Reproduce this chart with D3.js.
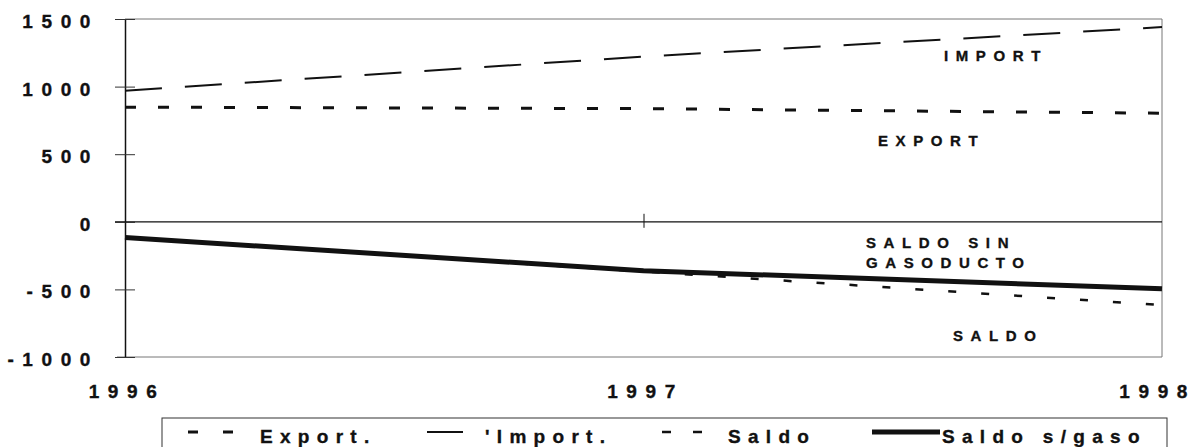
<!DOCTYPE html>
<html>
<head>
<meta charset="utf-8">
<script src="https://cdn.jsdelivr.net/npm/d3@7"></script>
<style>
  body { margin: 0; background: #fff; }
  svg { display: block; font-family: "Liberation Sans", Arial, sans-serif; font-weight: bold; }
  text { stroke: #111; stroke-width: 0.35px; }
</style>
</head>
<body>
<svg id="chart" width="1197" height="447"></svg>
<script>
// values
const years = [1996, 1997, 1998];
const exportVals = [848, 837, 803];
const importVals = [970, 1222, 1440];
const saldoVals = [-116, -368, -616];
const saldoSinVals = [-116, -362, -495];
const yTicks = [-1000, -500, 0, 500, 1000, 1500];
const xTickLabels = ["1996", "1997", "1998"];

const series = [
  { name: "Export.", values: exportVals, width: 3, dash: "11,22" },
  { name: "'Import.", values: importVals, width: 2, dash: "37,23" },
  { name: "Saldo", values: saldoVals, width: 2.5, dash: "8,25" },
  { name: "Saldo s/gaso", values: saldoSinVals, width: 5, dash: null }
];

const svg = d3.select("#chart");
const x = d3.scaleLinear().domain([1996, 1998]).range([125, 1162]);
const y = d3.scaleLinear().domain([-1000, 1500]).range([357, 19]);

// frame (grey top / right / bottom)
svg.append("path")
  .attr("d", `M${x(1996)},${y(1500)}H${x(1998)}V${y(-1000)}H${x(1996) - 8}`)
  .attr("fill", "none")
  .attr("stroke", "#777")
  .attr("stroke-width", 1);

// y axis
const yAxis = svg.append("g")
  .attr("transform", `translate(${x(1996)},0)`)
  .call(d3.axisLeft(y).tickValues(yTicks).tickSizeOuter(0).tickSizeInner(10).tickFormat(d => d));
yAxis.select(".domain").attr("stroke", "#111").attr("stroke-width", 1.5);
yAxis.selectAll(".tick line").attr("x1", 10).attr("x2", -10).attr("stroke", "#333");
yAxis.selectAll(".tick text")
  .attr("x", -26)
  .attr("dy", "0.45em")
  .attr("fill", "#111")
  .style("font-size", "19px")
  .style("font-family", "'Liberation Sans', Arial, sans-serif")
  .style("font-weight", "bold")
  .style("letter-spacing", "8.6px");

// zero line with x ticks
const xAxis = svg.append("g")
  .attr("transform", `translate(0,${y(0)})`)
  .call(d3.axisBottom(x).tickValues([1997]).tickSizeOuter(0).tickSize(0).tickFormat(""));
xAxis.select(".domain").attr("d", `M${x(1996) - 10},0H${x(1998)}`).attr("stroke", "#111").attr("stroke-width", 1.2);
xAxis.selectAll(".tick line").attr("y1", -8).attr("y2", 6).attr("stroke", "#111");

// x labels below plot (last one kept inside the page)
svg.append("g").selectAll("text")
  .data(years)
  .join("text")
  .attr("x", (d, i) => i === years.length - 1 ? 1196 : x(d) + 2)
  .attr("y", 398)
  .attr("text-anchor", (d, i) => i === years.length - 1 ? "end" : "middle")
  .style("font-size", "19px")
  .style("letter-spacing", "8.6px")
  .attr("fill", "#111")
  .text((d, i) => xTickLabels[i]);

// lines
const line = d3.line().x((d, i) => x(years[i])).y(d => y(d));
svg.append("g").selectAll("path")
  .data(series)
  .join("path")
  .attr("d", d => line(d.values))
  .attr("fill", "none")
  .attr("stroke", "#111")
  .attr("stroke-width", d => d.width)
  .attr("stroke-dasharray", d => d.dash);

// labels inside the plot
const notes = [
  { text: "IMPORT", x: 944, y: 61 },
  { text: "EXPORT", x: 878, y: 146 },
  { text: "SALDO SIN", x: 866, y: 248 },
  { text: "GASODUCTO", x: 866, y: 268 },
  { text: "SALDO", x: 953, y: 341 }
];
svg.append("g").selectAll("text")
  .data(notes)
  .join("text")
  .attr("x", d => d.x)
  .attr("y", d => d.y)
  .style("font-size", "15px")
  .style("letter-spacing", "7.6px")
  .attr("fill", "#111")
  .text(d => d.text);

// legend
const legend = svg.append("g");
legend.append("rect")
  .attr("x", 162).attr("y", 418)
  .attr("width", 1005).attr("height", 60)
  .attr("fill", "none").attr("stroke", "#333").attr("stroke-width", 1);

const legendPos = [
  { sx: 188, ex: 233, tx: 260 },
  { sx: 427, ex: 463, tx: 485 },
  { sx: 662, ex: 702, tx: 728 },
  { sx: 872, ex: 940, tx: 942 }
];
const item = legend.selectAll("g.item")
  .data(series)
  .join("g")
  .attr("class", "item");
item.append("line")
  .attr("x1", (d, i) => legendPos[i].sx)
  .attr("x2", (d, i) => legendPos[i].ex)
  .attr("y1", 432).attr("y2", 432)
  .attr("stroke", "#111")
  .attr("stroke-width", (d, i) => i === 1 ? 2 : d.width)
  .attr("stroke-dasharray", (d, i) => i === 0 ? "10,25" : i === 2 ? "9,22" : null);
item.append("text")
  .attr("x", (d, i) => legendPos[i].tx)
  .attr("y", 443)
  .style("font-size", "19px")
  .style("letter-spacing", "7.3px")
  .attr("fill", "#111")
  .text(d => d.name);
</script>
</body>
</html>
